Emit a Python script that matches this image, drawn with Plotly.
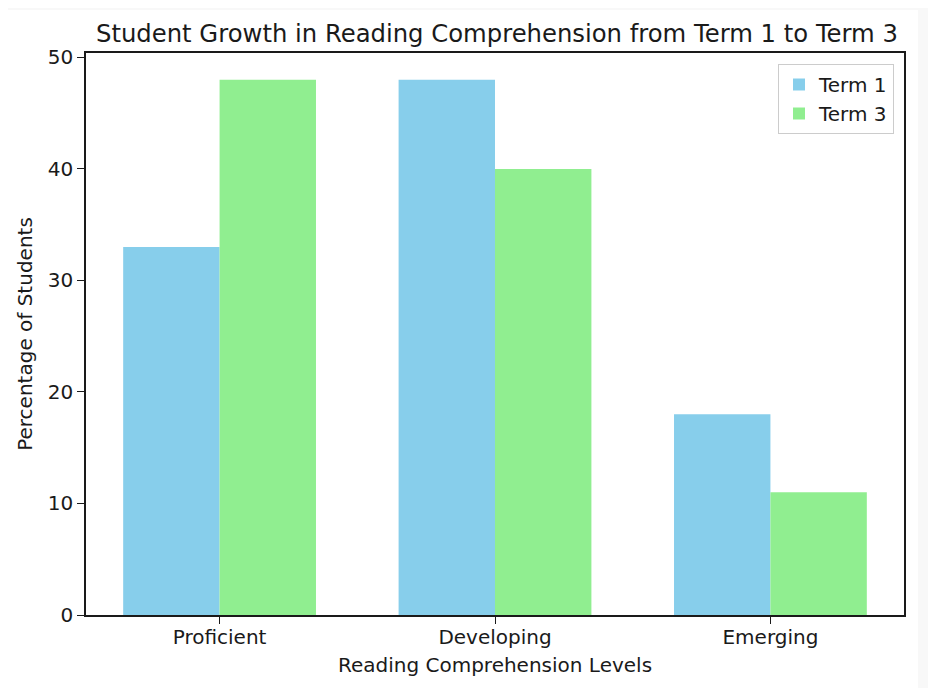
import plotly.graph_objects as go

levels = ["Proficient", "Developing", "Emerging"]
term1 = [33, 48, 18]
term3 = [48, 40, 11]
series_names = ["Term 1", "Term 3"]
series_colors = ["#87CEEB", "#90EE90"]
y_ticks = [0, 10, 20, 30, 40, 50]

FONT = "DejaVu Sans"
OFF = 8  # page body margin of the browser
W, H = 936 - OFF, 688 - OFF
L, R, T, B = 86 - OFF, 904 - OFF, 53 - OFF, 615 - OFF  # plot area in figure px

fig = go.Figure()
for name, vals, col in zip(series_names, [term1, term3], series_colors):
    fig.add_trace(go.Bar(x=levels, y=vals, name=name, marker=dict(color=col, line=dict(width=0))))

pw, ph = R - L, B - T
def px2x(p):
    return (p - OFF - L) / pw
def px2y(p):
    return (B - (p - OFF)) / ph

fig.add_shape(type="rect", xref="paper", yref="paper",
              x0=px2x(-5), x1=px2x(918), y0=px2y(700), y1=px2y(10),
              fillcolor="white", line=dict(width=0), layer="below")

fig.update_layout(
    width=W, height=H,
    margin=dict(l=L, r=W - R, t=T, b=H - B, pad=0),
    paper_bgcolor="#f8f8f8", plot_bgcolor="white",
    barmode="group", bargap=0.3, bargroupgap=0,
    font=dict(family=FONT, size=20, color="#1a1a1a"),
    title=dict(text="Student Growth in Reading Comprehension from Term 1 to Term 3",
               x=(497 - OFF) / W, xanchor="center", xref="container",
               y=1 - (33 - OFF) / H, yanchor="middle", yref="container",
               font=dict(family=FONT, size=24.3, color="#1a1a1a")),
    legend=dict(x=px2x(894), xanchor="right", y=px2y(64), yanchor="top",
                bgcolor="rgba(255,255,255,0.8)", bordercolor="#cccccc", borderwidth=1,
                font=dict(family=FONT, size=20, color="#1a1a1a")),
    showlegend=True,
)
fig.update_xaxes(range=[-0.485, 2.485], showgrid=False, showline=True, linecolor="#1a1a1a",
                 linewidth=1.5, mirror=True, ticks="outside", ticklen=7, tickwidth=1.3,
                 tickcolor="#1a1a1a", tickfont=dict(size=20), ticklabelstandoff=-4,
                 title=dict(text="Reading Comprehension Levels", standoff=10, font=dict(size=20)))
fig.update_yaxes(range=[0, 50.4], tickvals=y_ticks, showgrid=False, zeroline=False, showline=True,
                 linecolor="#1a1a1a", linewidth=1.5, mirror=True, ticks="outside", ticklen=7,
                 tickwidth=1.3, tickcolor="#1a1a1a", tickfont=dict(size=20),
                 title=dict(text="Percentage of Students", standoff=10, font=dict(size=20)))

fig.write_html("out.html")
